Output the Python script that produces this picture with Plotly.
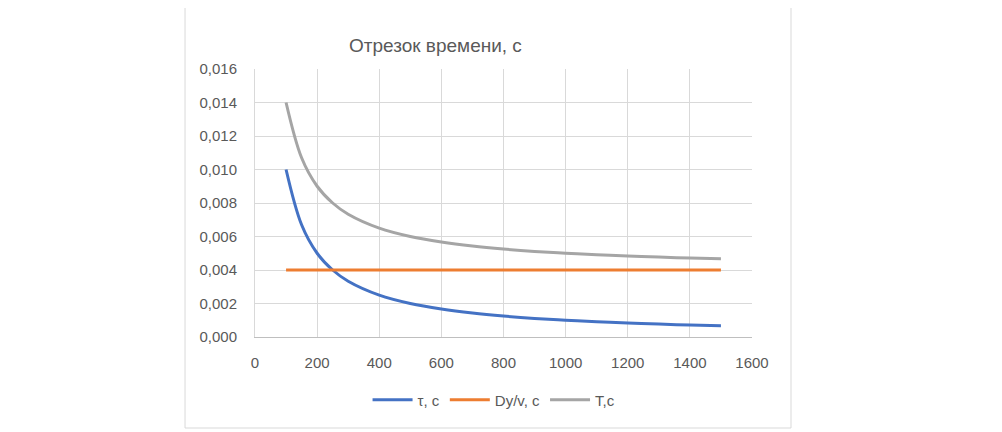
import plotly.graph_objects as go

x_vals = [100, 150, 200, 250, 300, 400, 500, 600, 700, 800, 900, 1000, 1100, 1200, 1300, 1400, 1500]
tau = [0.0100, 0.0067, 0.0050, 0.0040, 0.00333, 0.0025, 0.0020, 0.00167, 0.00143, 0.00125,
       0.00111, 0.0010, 0.00091, 0.00083, 0.00077, 0.00071, 0.00067]
dy_v = [0.004, 0.004, 0.004, 0.004, 0.004, 0.004, 0.004, 0.004, 0.004, 0.004,
        0.004, 0.004, 0.004, 0.004, 0.004, 0.004, 0.004]
T = [0.0140, 0.0107, 0.0090, 0.0080, 0.00733, 0.0065, 0.0060, 0.00567, 0.00543, 0.00525,
     0.00511, 0.0050, 0.00491, 0.00483, 0.00477, 0.00471, 0.00467]

names = ["τ, с", "Dy/v, с", "T,с"]
colors = ["#4472C4", "#ED7D31", "#A5A5A5"]

fig = go.Figure()
for name, ys, col in zip(names, [tau, dy_v, T], colors):
    fig.add_trace(go.Scatter(x=x_vals, y=ys, mode="lines", name=name,
                             line=dict(color=col, width=3, shape="spline", smoothing=1)))

font_name = "Liberation Sans"
grey_txt = "#595959"

fig.update_layout(
    width=1002, height=432,
    margin=dict(l=247, r=258, t=61, b=103),
    paper_bgcolor="white", plot_bgcolor="white",
    separators=", ",
    showlegend=True,
    legend=dict(orientation="h", x=0.481, xanchor="center", y=-0.235, yanchor="middle",
                font=dict(family=font_name, size=15, color=grey_txt), itemwidth=40),
    annotations=[dict(text="Отрезок времени, с", x=0.364, y=1.134, xref="paper", yref="paper",
                      showarrow=False, font=dict(family=font_name, size=19, color=grey_txt))],
    shapes=[dict(type="rect", xref="paper", yref="paper", x0=-0.1408, x1=1.0785, y0=-0.3396, y1=1.2388,
                 line=dict(color="#d9d9d9", width=1), fillcolor="rgba(0,0,0,0)", layer="below")],
)
fig.update_xaxes(range=[0, 1600], dtick=200, tickformat="d", showgrid=True, gridcolor="#d9d9d9",
                 zeroline=False, showline=True, linecolor="#bfbfbf", ticks="", ticklabelstandoff=12,
                 tickfont=dict(family=font_name, size=15, color=grey_txt))
fig.update_yaxes(range=[0, 0.016], dtick=0.002, tickformat=".3f", showgrid=True, gridcolor="#d9d9d9",
                 zeroline=False, showline=True, linecolor="#d9d9d9", mirror=False, ticks="",
                 ticklabelstandoff=14, tickfont=dict(family=font_name, size=15, color=grey_txt))

fig.write_html("out.html")
